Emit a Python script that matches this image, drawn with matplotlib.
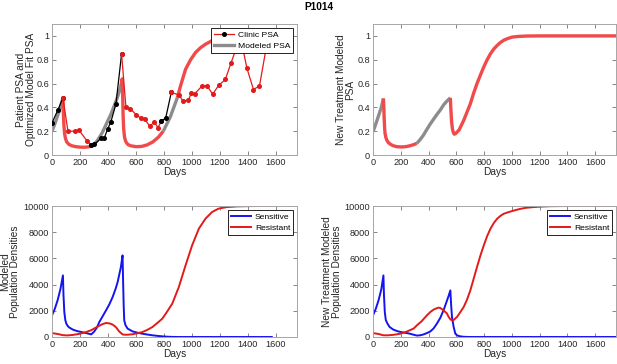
import numpy as np
import matplotlib
matplotlib.use("Agg")
import matplotlib.pyplot as plt
from matplotlib.lines import Line2D

plt.rcParams['font.family'] = ['Liberation Sans', 'DejaVu Sans']

# ---- clinic PSA (patient P1014) ----
clinic_days = [0, 43, 78, 114, 161, 192, 249, 279, 303, 350, 374, 398, 421, 457, 497,
               528, 559, 599, 634, 662, 700, 729, 757, 781, 812, 852,
               906, 935, 973, 996, 1020, 1072, 1108, 1148, 1190, 1238, 1278, 1314,
               1350, 1392, 1439, 1482, 1545]
clinic_psa = [0.27, 0.38, 0.48, 0.20, 0.20, 0.21, 0.12, 0.085, 0.09, 0.14, 0.145, 0.22, 0.28, 0.43, 0.85,
              0.40, 0.39, 0.34, 0.31, 0.30, 0.24, 0.28, 0.23, 0.285, 0.31, 0.525,
              0.505, 0.455, 0.46, 0.52, 0.515, 0.58, 0.58, 0.51, 0.585, 0.634, 0.77, 0.89,
              0.97, 0.73, 0.55, 0.58, 1.0]
# index ranges of off / on treatment stretches
clinic_phases = [(0, 2, 'off'), (2, 7, 'on'), (7, 14, 'off'), (14, 23, 'on'),
                 (23, 25, 'off'), (25, 42, 'on')]

# ---- fitted model PSA ----
fit_days = [0, 20, 40, 60, 78, 81, 85, 90, 96, 105, 120, 140, 170, 200, 230, 260, 280,
            300, 320, 340, 360, 380, 400, 420, 440, 460, 480, 492,
            498, 502, 505, 508, 512, 518, 526, 540, 560, 600, 640, 680, 720, 760, 795,
            820, 845, 870, 895, 918, 954, 990, 1025, 1060, 1096, 1143, 1200, 1260, 1350,
            1450, 1570]
fit_psa = [0.20, 0.26, 0.33, 0.40, 0.48, 0.36, 0.25, 0.18, 0.14, 0.11, 0.09, 0.078, 0.07, 0.066,
           0.065, 0.068, 0.075,
           0.09, 0.115, 0.15, 0.19, 0.24, 0.29, 0.34, 0.40, 0.46, 0.53, 0.58,
           0.62, 0.64, 0.50, 0.33, 0.22, 0.15, 0.115, 0.09, 0.078, 0.07, 0.072, 0.085, 0.11,
           0.15, 0.20,
           0.26, 0.32, 0.40, 0.48, 0.58, 0.72, 0.80, 0.86, 0.90, 0.93, 0.96, 0.98, 0.99, 0.997,
           1.0, 1.0]
fit_switch = [0, 78, 280, 492, 795, 895, 1570]

# ---- new treatment model PSA ----
new_days = [0, 20, 40, 60, 75, 78, 80, 84, 87, 92, 99, 110, 123, 145, 171, 195, 219, 245, 267,
            290, 316, 340, 364, 388, 412, 436, 460, 484, 508, 530, 557, 561, 566, 572, 578,
            585, 593, 620, 653, 677, 701, 725, 749, 773, 798, 822, 846, 870, 894, 918, 942,
            970, 1002, 1050, 1111, 1200, 1750]
new_psa = [0.196, 0.26, 0.33, 0.40, 0.475, 0.40, 0.32, 0.22, 0.18, 0.15, 0.126, 0.105, 0.092,
           0.078, 0.07, 0.068, 0.068, 0.072, 0.078, 0.086, 0.098, 0.13, 0.168, 0.215, 0.26,
           0.30, 0.34, 0.377, 0.42, 0.45, 0.48, 0.38, 0.28, 0.22, 0.19, 0.175, 0.178, 0.21,
           0.29, 0.36, 0.43, 0.52, 0.60, 0.67, 0.74, 0.80, 0.85, 0.89, 0.92, 0.945, 0.964,
           0.978, 0.99, 0.996, 0.999, 1.0, 1.0]
new_switch = [0, 75, 316, 557, 1750]

# ---- fitted model populations ----
fs_days = [0, 20, 40, 60, 78, 82, 88, 95, 102, 115, 130, 150, 180, 210, 244, 280, 300, 320,
           338, 360, 386, 410, 433, 455, 469, 492, 504, 508, 512, 516, 525, 540, 575, 610,
           646, 680, 717, 750, 788, 820, 850, 900, 1000, 1200, 1400, 1570]
fs_sens = [1650, 2150, 2800, 3650, 4700, 3200, 1900, 1300, 1020, 800, 680, 560, 450, 380,
           300, 200, 400, 700, 1145, 1550, 2035, 2500, 3050, 3700, 4200, 5340, 6230, 4200,
           2400, 1270, 900, 640, 430, 330, 250, 190, 130, 90, 50, 25, 10, 0, 0, 0, 0, 0]
fr_days = [0, 40, 78, 110, 150, 200, 244, 280, 320, 360, 386, 410, 433, 457, 480, 504, 516,
           540, 575, 610, 646, 680, 717, 750, 788, 820, 859, 906, 954, 1001, 1049, 1096,
           1143, 1190, 1250, 1320, 1400, 1500, 1570]
fr_res = [300, 230, 140, 120, 160, 250, 380, 520, 760, 980, 1070, 1040, 950, 750, 420, 200,
          175, 175, 210, 280, 380, 540, 760, 1050, 1400, 1900, 2545, 3820, 5470, 7000, 8270,
          9030, 9540, 9800, 9920, 9970, 9990, 10000, 10000]

# ---- new treatment populations ----
ns_days = [0, 20, 40, 60, 75, 79, 85, 92, 104, 120, 147, 180, 210, 243, 267, 290, 316, 340,
           365, 388, 412, 436, 460, 484, 508, 530, 545, 557, 563, 569, 581, 593, 605, 617,
           635, 653, 700, 800, 1000, 1400, 1750]
ns_sens = [1650, 2150, 2800, 3650, 4700, 3200, 1900, 1300, 1020, 760, 560, 430, 360, 300,
           250, 180, 110, 130, 200, 300, 420, 650, 1020, 1450, 2035, 2700, 3150, 3560, 2400,
           1500, 760, 250, 130, 80, 40, 15, 0, 0, 0, 0, 0]
nr_days = [0, 40, 75, 110, 150, 195, 240, 292, 316, 350, 388, 412, 436, 460, 472, 484, 508,
           532, 545, 557, 569, 581, 605, 629, 653, 677, 701, 725, 749, 773, 798, 822, 846,
           870, 894, 918, 942, 978, 1014, 1060, 1100, 1159, 1220, 1280, 1400, 1750]
nr_res = [300, 230, 130, 130, 170, 250, 400, 640, 890, 1200, 1650, 1900, 2090, 2200, 2240,
          2220, 2035, 1800, 1530, 1350, 1270, 1300, 1530, 1900, 2290, 2850, 3560, 4450, 5340,
          6200, 7000, 7700, 8270, 8700, 9030, 9250, 9410, 9540, 9650, 9780, 9860, 9920, 9960,
          9985, 10000, 10000]

GRAY = '#8c8c8c'
LIGHT_RED = '#f04a4a'
RED = '#e31a1a'
BLUE = '#1414f0'
DARK = '#262626'
TICK_FS = 6.6
LABEL_FS = 7.3
LEG_FS = 6.1


def style(ax, ylim, yticks, ylabel, label_x):
    ax.set_xlim(0, 1750)
    ax.set_ylim(*ylim)
    ax.set_xticks(range(0, 1601, 200))
    ax.set_yticks(yticks)
    ax.tick_params(direction='in', top=True, right=True, labelsize=TICK_FS, length=3,
                   width=0.5, color='#555555', labelcolor=DARK, pad=2)
    for s in ax.spines.values():
        s.set_color('#a6a6a6')
        s.set_linewidth(0.7)
    ax.set_xlabel('Days', fontsize=LABEL_FS, color=DARK, labelpad=0.5)
    ax.set_ylabel(ylabel, fontsize=LABEL_FS, color=DARK, linespacing=1.0)
    ax.yaxis.set_label_coords(label_x, 0.5)


def phased(ax, days, vals, switches, lw):
    days = np.array(days)
    vals = np.array(vals)
    for i in range(len(switches) - 1):
        m = (days >= switches[i]) & (days <= switches[i + 1])
        c = GRAY if i % 2 == 0 else LIGHT_RED
        ax.plot(days[m], vals[m], color=c, lw=lw, solid_capstyle='butt', zorder=2)


def legend(ax, *args):
    lg = ax.legend(*args, loc='upper right', fontsize=LEG_FS, frameon=True,
                   fancybox=False, framealpha=1, edgecolor='black', borderpad=0.35,
                   handlelength=2.4, handletextpad=0.4, labelspacing=0.35,
                   borderaxespad=0.45)
    lg.get_frame().set_linewidth(0.6)
    lg.set_zorder(5)


fig = plt.figure(figsize=(6.17, 3.64), dpi=100)
W, H = 617, 364


def add_ax(l, t, w, h):
    return fig.add_axes([l / W, 1 - (t + h) / H, w / W, h / H])


ax1 = add_ax(52, 24, 245, 131)
ax2 = add_ax(373, 24, 243, 131)
ax3 = add_ax(52, 206, 245, 131)
ax4 = add_ax(373, 206, 243, 131)

psa_ticks = [0, 0.2, 0.4, 0.6, 0.8, 1]
psa_labels = ['0', '0.2', '0.4', '0.6', '0.8', '1']
pop_ticks = [0, 2000, 4000, 6000, 8000, 10000]

# top left: clinic vs fitted model
phased(ax1, fit_days, fit_psa, fit_switch, 2.4)
cd = np.array(clinic_days)
cp = np.array(clinic_psa)
for a, b, ph in clinic_phases:
    c = 'black' if ph == 'off' else RED
    ax1.plot(cd[a:b + 1], cp[a:b + 1], color=c, lw=0.9, marker='o', ms=2.6,
             mfc=c, mec=c, zorder=3)
style(ax1, (0, 1.1), psa_ticks, 'Patient PSA and\nOptimized Model Fit PSA', -0.065)
ax1.set_yticklabels(psa_labels)
h1 = [Line2D([], [], color=RED, lw=0.9, marker='o', ms=2.6, mfc='black', mec='black'),
      Line2D([], [], color=GRAY, lw=2.4)]
legend(ax1, h1, ['Clinic PSA', 'Modeled PSA'])

# top right: new treatment model PSA
phased(ax2, new_days, new_psa, new_switch, 2.4)
style(ax2, (0, 1.1), psa_ticks, 'New Treatment Modeled\nPSA', -0.072)
ax2.set_yticklabels(psa_labels)

# bottom left: fitted populations
ax3.plot(fs_days, fs_sens, color=BLUE, lw=1.4, label='Sensitive')
ax3.plot(fr_days, fr_res, color=RED, lw=1.4, label='Resistant')
style(ax3, (0, 10000), pop_ticks, 'Modeled\nPopulation Densities', -0.13)
legend(ax3)

# bottom right: new treatment populations
ax4.plot(ns_days, ns_sens, color=BLUE, lw=1.4, label='Sensitive')
ax4.plot(nr_days, nr_res, color=RED, lw=1.4, label='Resistant')
style(ax4, (0, 10000), pop_ticks, 'New Treatment Modeled\nPopulation Densities', -0.128)
legend(ax4)

fig.text(319 / W, 1 - 7 / H, 'P1014', ha='center', va='center', fontsize=7.3,
         fontweight='bold', color='black')

fig.savefig('out.png', dpi=100)
